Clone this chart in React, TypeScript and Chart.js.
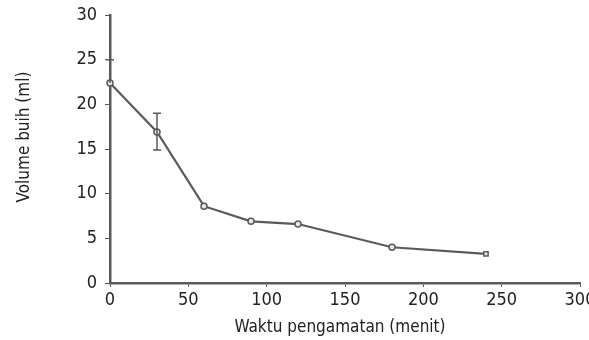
import React, { useEffect, useRef } from "react";
import { Chart, registerables } from "chart.js";

Chart.register(...registerables);

const timeMin = [0, 30, 60, 90, 120, 180, 240];
const foamVolume = [22.4, 16.9, 8.6, 6.9, 6.6, 4.0, 3.25];
const errPlus = [2.6, 2.1, 0, 0, 0, 0, 0];
const errMinus = [0, 2.0, 0, 0, 0, 0, 0];
const markerStyles = ["circle", "circle", "circle", "circle", "circle", "circle", "rect"];
const xTitle = "Waktu pengamatan (menit)";
const yTitle = "Volume buih (ml)";

const FONT = "'DejaVu Sans Condensed', 'Liberation Sans Narrow', 'Liberation Sans', Arial, sans-serif";
const INK = "#5a5a5a";

const errorBarPlugin = {
  id: "errorBars",
  afterDatasetsDraw(chart: any) {
    const { ctx, scales } = chart;
    const xs = scales.x;
    const ys = scales.y;
    ctx.save();
    ctx.strokeStyle = INK;
    ctx.lineWidth = 1.5;
    timeMin.forEach((t, i) => {
      const p = errPlus[i];
      const m = errMinus[i];
      if (!p && !m) return;
      const px = xs.getPixelForValue(t);
      const yTop = ys.getPixelForValue(foamVolume[i] + p);
      const yBot = ys.getPixelForValue(foamVolume[i] - m);
      ctx.beginPath();
      ctx.moveTo(px, yTop);
      ctx.lineTo(px, yBot);
      if (p) {
        ctx.moveTo(px - 4, yTop);
        ctx.lineTo(px + 4, yTop);
      }
      if (m) {
        ctx.moveTo(px - 4, yBot);
        ctx.lineTo(px + 4, yBot);
      }
      ctx.stroke();
    });
    ctx.restore();
  },
};

const axisTitlePlugin = {
  id: "axisTitles",
  afterDraw(chart: any) {
    const { ctx, chartArea } = chart;
    ctx.save();
    ctx.fillStyle = "#222";
    ctx.font = `17px ${FONT}`;
    ctx.textAlign = "center";
    ctx.textBaseline = "middle";
    ctx.fillText(xTitle, (chartArea.left + chartArea.right) / 2 - 5, chartArea.bottom + 45);
    ctx.translate(25, (chartArea.top + chartArea.bottom) / 2 - 12);
    ctx.rotate(-Math.PI / 2);
    ctx.fillText(yTitle, 0, 0);
    ctx.restore();
  },
};

export default function App() {
  const ref = useRef<HTMLCanvasElement>(null);
  useEffect(() => {
    if (!ref.current) return;
    const chart = new Chart(ref.current, {
      type: "line",
      data: {
        datasets: [
          {
            data: timeMin.map((t, i) => ({ x: t, y: foamVolume[i] })),
            borderColor: INK,
            borderWidth: 2.2,
            pointStyle: markerStyles as any,
            pointRadius: 3,
            pointBorderWidth: 1.5,
            pointBorderColor: INK,
            pointBackgroundColor: "#e8e8e8",
            tension: 0,
            clip: false as any,
          },
        ],
      },
      options: {
        responsive: false,
        animation: false,
        layout: { padding: { left: 0, right: 9, top: 15, bottom: 0 } },
        plugins: { legend: { display: false }, tooltip: { enabled: false } },
        scales: {
          x: {
            type: "linear",
            min: 0,
            max: 300,
            afterFit: (s: any) => {
              s.height = 57;
              s.paddingLeft = 0;
              s.paddingRight = 0;
            },
            ticks: {
              stepSize: 50,
              color: "#222",
              font: { family: FONT, size: 18 },
              padding: 3,
              maxRotation: 0,
            },
            grid: { drawOnChartArea: false, drawTicks: true, tickLength: 4, color: INK, lineWidth: 1 },
            border: { display: true, color: INK, width: 2.5 },
          },
          y: {
            type: "linear",
            min: 0,
            max: 30,
            afterFit: (s: any) => {
              s.width = 110;
              s.paddingTop = 0;
              s.paddingBottom = 0;
            },
            ticks: {
              stepSize: 5,
              color: "#222",
              font: { family: FONT, size: 18 },
              padding: 8,
            },
            grid: { drawOnChartArea: false, drawTicks: true, tickLength: 5, color: INK, lineWidth: 1 },
            border: { display: true, color: INK, width: 2.5 },
          },
        },
      },
      plugins: [errorBarPlugin, axisTitlePlugin],
    });
    return () => chart.destroy();
  }, []);
  return (
    <div style={{ position: "absolute", left: 0, top: 0, width: 589, height: 340, background: "#fff" }}>
      <canvas ref={ref} width={589} height={340} />
    </div>
  );
}
